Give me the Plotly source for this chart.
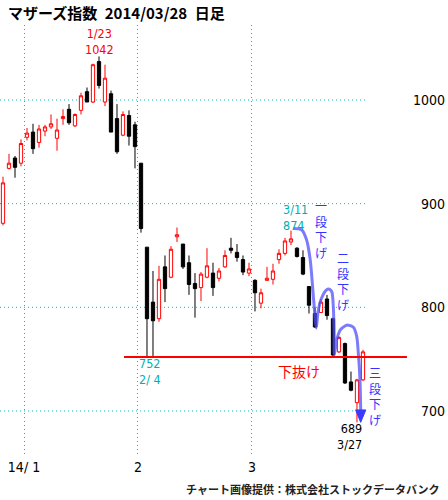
import plotly.graph_objects as go

# ---------------- data ----------------
dates = ["2013-12-25", "2013-12-26", "2013-12-27", "2013-12-30",
         "2014-01-06", "2014-01-07", "2014-01-08", "2014-01-09", "2014-01-10",
         "2014-01-14", "2014-01-15", "2014-01-16", "2014-01-17", "2014-01-20",
         "2014-01-21", "2014-01-22", "2014-01-23", "2014-01-24", "2014-01-27",
         "2014-01-28", "2014-01-29", "2014-01-30", "2014-01-31",
         "2014-02-03", "2014-02-04", "2014-02-05", "2014-02-06", "2014-02-07",
         "2014-02-10", "2014-02-12", "2014-02-13", "2014-02-14", "2014-02-17",
         "2014-02-18", "2014-02-19", "2014-02-20", "2014-02-21", "2014-02-24",
         "2014-02-25", "2014-02-26", "2014-02-27", "2014-02-28",
         "2014-03-03", "2014-03-04", "2014-03-05", "2014-03-06", "2014-03-07",
         "2014-03-10", "2014-03-11", "2014-03-12", "2014-03-13", "2014-03-14",
         "2014-03-17", "2014-03-18", "2014-03-19", "2014-03-20", "2014-03-24",
         "2014-03-25", "2014-03-26", "2014-03-27", "2014-03-28"]

open_ = [881, 934, 944, 939, 964, 969, 959, 970, 974, 963, 982, 991, 975, 990, 1008,
         998, 1037, 998, 1006, 982, 966, 985, 976, 939, 858, 805, 789, 839, 829, 868,
         861, 843, 823, 819, 829, 833, 828, 839, 857, 853, 846, 833, 826, 804, 826,
         827, 846, 852, 863, 857, 848, 820, 794, 795, 808, 789, 757, 765, 728, 708, 730]
high = [926, 948, 946, 962, 973, 977, 976, 976, 986, 982, 991, 996, 987, 1007, 1012,
        1035, 1042, 1034, 1009, 996, 989, 990, 979, 939, 858, 835, 840, 850, 859, 877,
        861, 850, 833, 834, 857, 843, 838, 855, 867, 861, 850, 843, 827, 818, 839,
        842, 856, 867, 874, 858, 855, 820, 800, 808, 812, 790, 772, 766, 738, 731, 759]
low = [879, 933, 925, 936, 961, 948, 954, 965, 972, 951, 976, 976, 974, 986, 998,
       997, 1011, 994, 969, 948, 965, 956, 934, 872, 752, 753, 786, 805, 828, 863,
       837, 812, 790, 806, 828, 811, 825, 838, 852, 844, 831, 830, 796, 799, 826,
       822, 842, 850, 860, 848, 831, 794, 780, 795, 788, 752, 756, 726, 719, 689, 729]
close = [920, 939, 935, 958, 968, 953, 972, 974, 977, 971, 984, 978, 986, 1004, 998,
         1034, 1014, 1021, 969, 950, 986, 965, 955, 876, 789, 787, 827, 818, 856, 870,
         839, 822, 818, 832, 840, 819, 835, 850, 855, 848, 834, 837, 814, 814, 828,
         835, 852, 864, 866, 849, 832, 802, 781, 805, 792, 754, 771, 727, 720, 730, 757]

month_tick_labels = ["14/ 1", "2", "3"]
price_ticks = [700, 800, 900, 1000]
support_level = 752

# hand-drawn "一段下げ / 二段下げ / 三段下げ" arrow path (index, price)
arrow_k = [48.4, 49.8, 50.6, 51.2, 51.6, 52.0, 52.2, 52.55, 53.1, 53.95, 54.4, 54.8,
           55.05, 55.17, 55.22, 55.6, 56.2, 57.0, 57.55, 58.4, 58.95, 59.22, 59.5, 59.62]
arrow_v = [876, 874.6, 865, 846, 820, 791, 780, 797, 809, 817, 817.4, 815,
           801, 778, 754, 768, 778, 782, 782.8, 780.8, 772, 756, 730, 701]

# ---------------- figure ----------------
x = list(range(len(dates)))
NARROW = "Liberation Sans Narrow, DejaVu Sans Condensed, Arial Narrow, sans-serif"
JP = "Noto Sans CJK JP, sans-serif"
GRID = "#00BEBE"

fig = go.Figure()
fig.add_trace(go.Candlestick(
    x=x, open=open_, high=high, low=low, close=close, text=dates,
    increasing=dict(line=dict(color="#FF0000", width=1), fillcolor="#FFFFFF"),
    decreasing=dict(line=dict(color="#000000", width=1), fillcolor="#000000"),
    whiskerwidth=0, showlegend=False, hoverinfo="skip",
))

# arrow curve
fig.add_trace(go.Scatter(
    x=arrow_k, y=arrow_v, mode="lines",
    line=dict(color="rgba(80,80,250,0.75)", width=3, shape="spline", smoothing=0.8),
    showlegend=False, hoverinfo="skip",
))
# arrow head
tip_k, tip_v = arrow_k[-1], min(low)
fig.add_trace(go.Scatter(
    x=[tip_k - 0.85, tip_k + 0.85, tip_k, tip_k - 0.85],
    y=[arrow_v[-1], arrow_v[-1], tip_v, arrow_v[-1]],
    mode="lines", fill="toself", fillcolor="#3A3AFF",
    line=dict(color="#3A3AFF", width=1), showlegend=False, hoverinfo="skip",
))

month_pos = [3.5, 22.5, 41.5]
x_right_grid = 60.67

shapes = []
for v in price_ticks:
    shapes.append(dict(type="line", xref="x", yref="y", x0=-0.5, x1=x_right_grid,
                       y0=v, y1=v, layer="below",
                       line=dict(color=GRID, width=1, dash="1px,3px")))
shapes.append(dict(type="line", xref="x", yref="y", x0=20.17, x1=67.33,
                   y0=support_level, y1=support_level, layer="above",
                   line=dict(color="#FF0000", width=2)))

ann = []
def label(xv, yv, text, color, xanchor="center", size=12.5, font=NARROW):
    ann.append(dict(x=xv, y=yv, xref="x", yref="y", text=text, showarrow=False,
                    xanchor=xanchor, yanchor="middle", align=xanchor if xanchor != "center" else "center",
                    font=dict(family=font, size=size, color=color)))

imax = high.index(max(high))
imin = low.index(min(low))
label(imax, 1056.7, "1/23<br>" + str(max(high)), "#FF0000")
label(22.33, 737.6, "752<br>2/ 4", "#00B0B0", xanchor="left")
label(46.33, 886.9, "3/11<br>874", "#00B0B0", xanchor="left")
label(60.17, 675.2, str(min(low)) + "<br>3/27", "#000000", xanchor="right")
label(49.33, 738.1, "下抜け", "#FF0000", size=14, font=JP)

for col_k, mid_v, txt in [(53.0, 875.5, "一段下げ"), (56.67, 825.3, "二段下げ"),
                          (62.0, 714.5, "三段下げ")]:
    label(col_k, mid_v, "<br>".join(txt), "#3333FF", size=12, font=JP)

fig.update_layout(
    width=448, height=500,
    margin=dict(l=0, r=0, t=25, b=43),
    paper_bgcolor="white", plot_bgcolor="white",
    shapes=shapes, annotations=ann, boxgap=0.22,
    xaxis=dict(range=[-0.5, 74.17], tickvals=month_pos, ticktext=month_tick_labels,
               showgrid=True, gridcolor=GRID, griddash="1px,3px", gridwidth=1,
               zeroline=False, showline=False, ticks="",
               tickfont=dict(family=NARROW, size=14, color="#000000"),
               rangeslider=dict(visible=False), fixedrange=True),
    yaxis=dict(range=[655.6, 1072.3], tickvals=price_ticks, side="right",
               ticklabelposition="inside", showgrid=False, zeroline=False,
               showline=False, ticks="",
               tickfont=dict(family=NARROW, size=14, color="#000000"), fixedrange=True),
)

# title and credit
fig.add_annotation(text="<b>マザーズ指数\u20022014/03/28\u2002日足</b>", xref="paper", yref="paper",
                   x=6 / 448, y=1 + (25 - 12) / 432, xanchor="left", yanchor="middle",
                   showarrow=False, font=dict(family=JP, size=15, color="#000000"))
fig.add_annotation(text="<b>チャート画像提供：株式会社ストックデータバンク</b>", xref="paper",
                   yref="paper", x=441 / 448, y=-(489 - 457) / 432, xanchor="right",
                   yanchor="middle", showarrow=False,
                   font=dict(family=JP, size=11, color="#222222"))

fig.write_html("out.html", config={"displayModeBar": False},
               post_script="document.body.style.margin='0';document.body.style.overflow='hidden';")
